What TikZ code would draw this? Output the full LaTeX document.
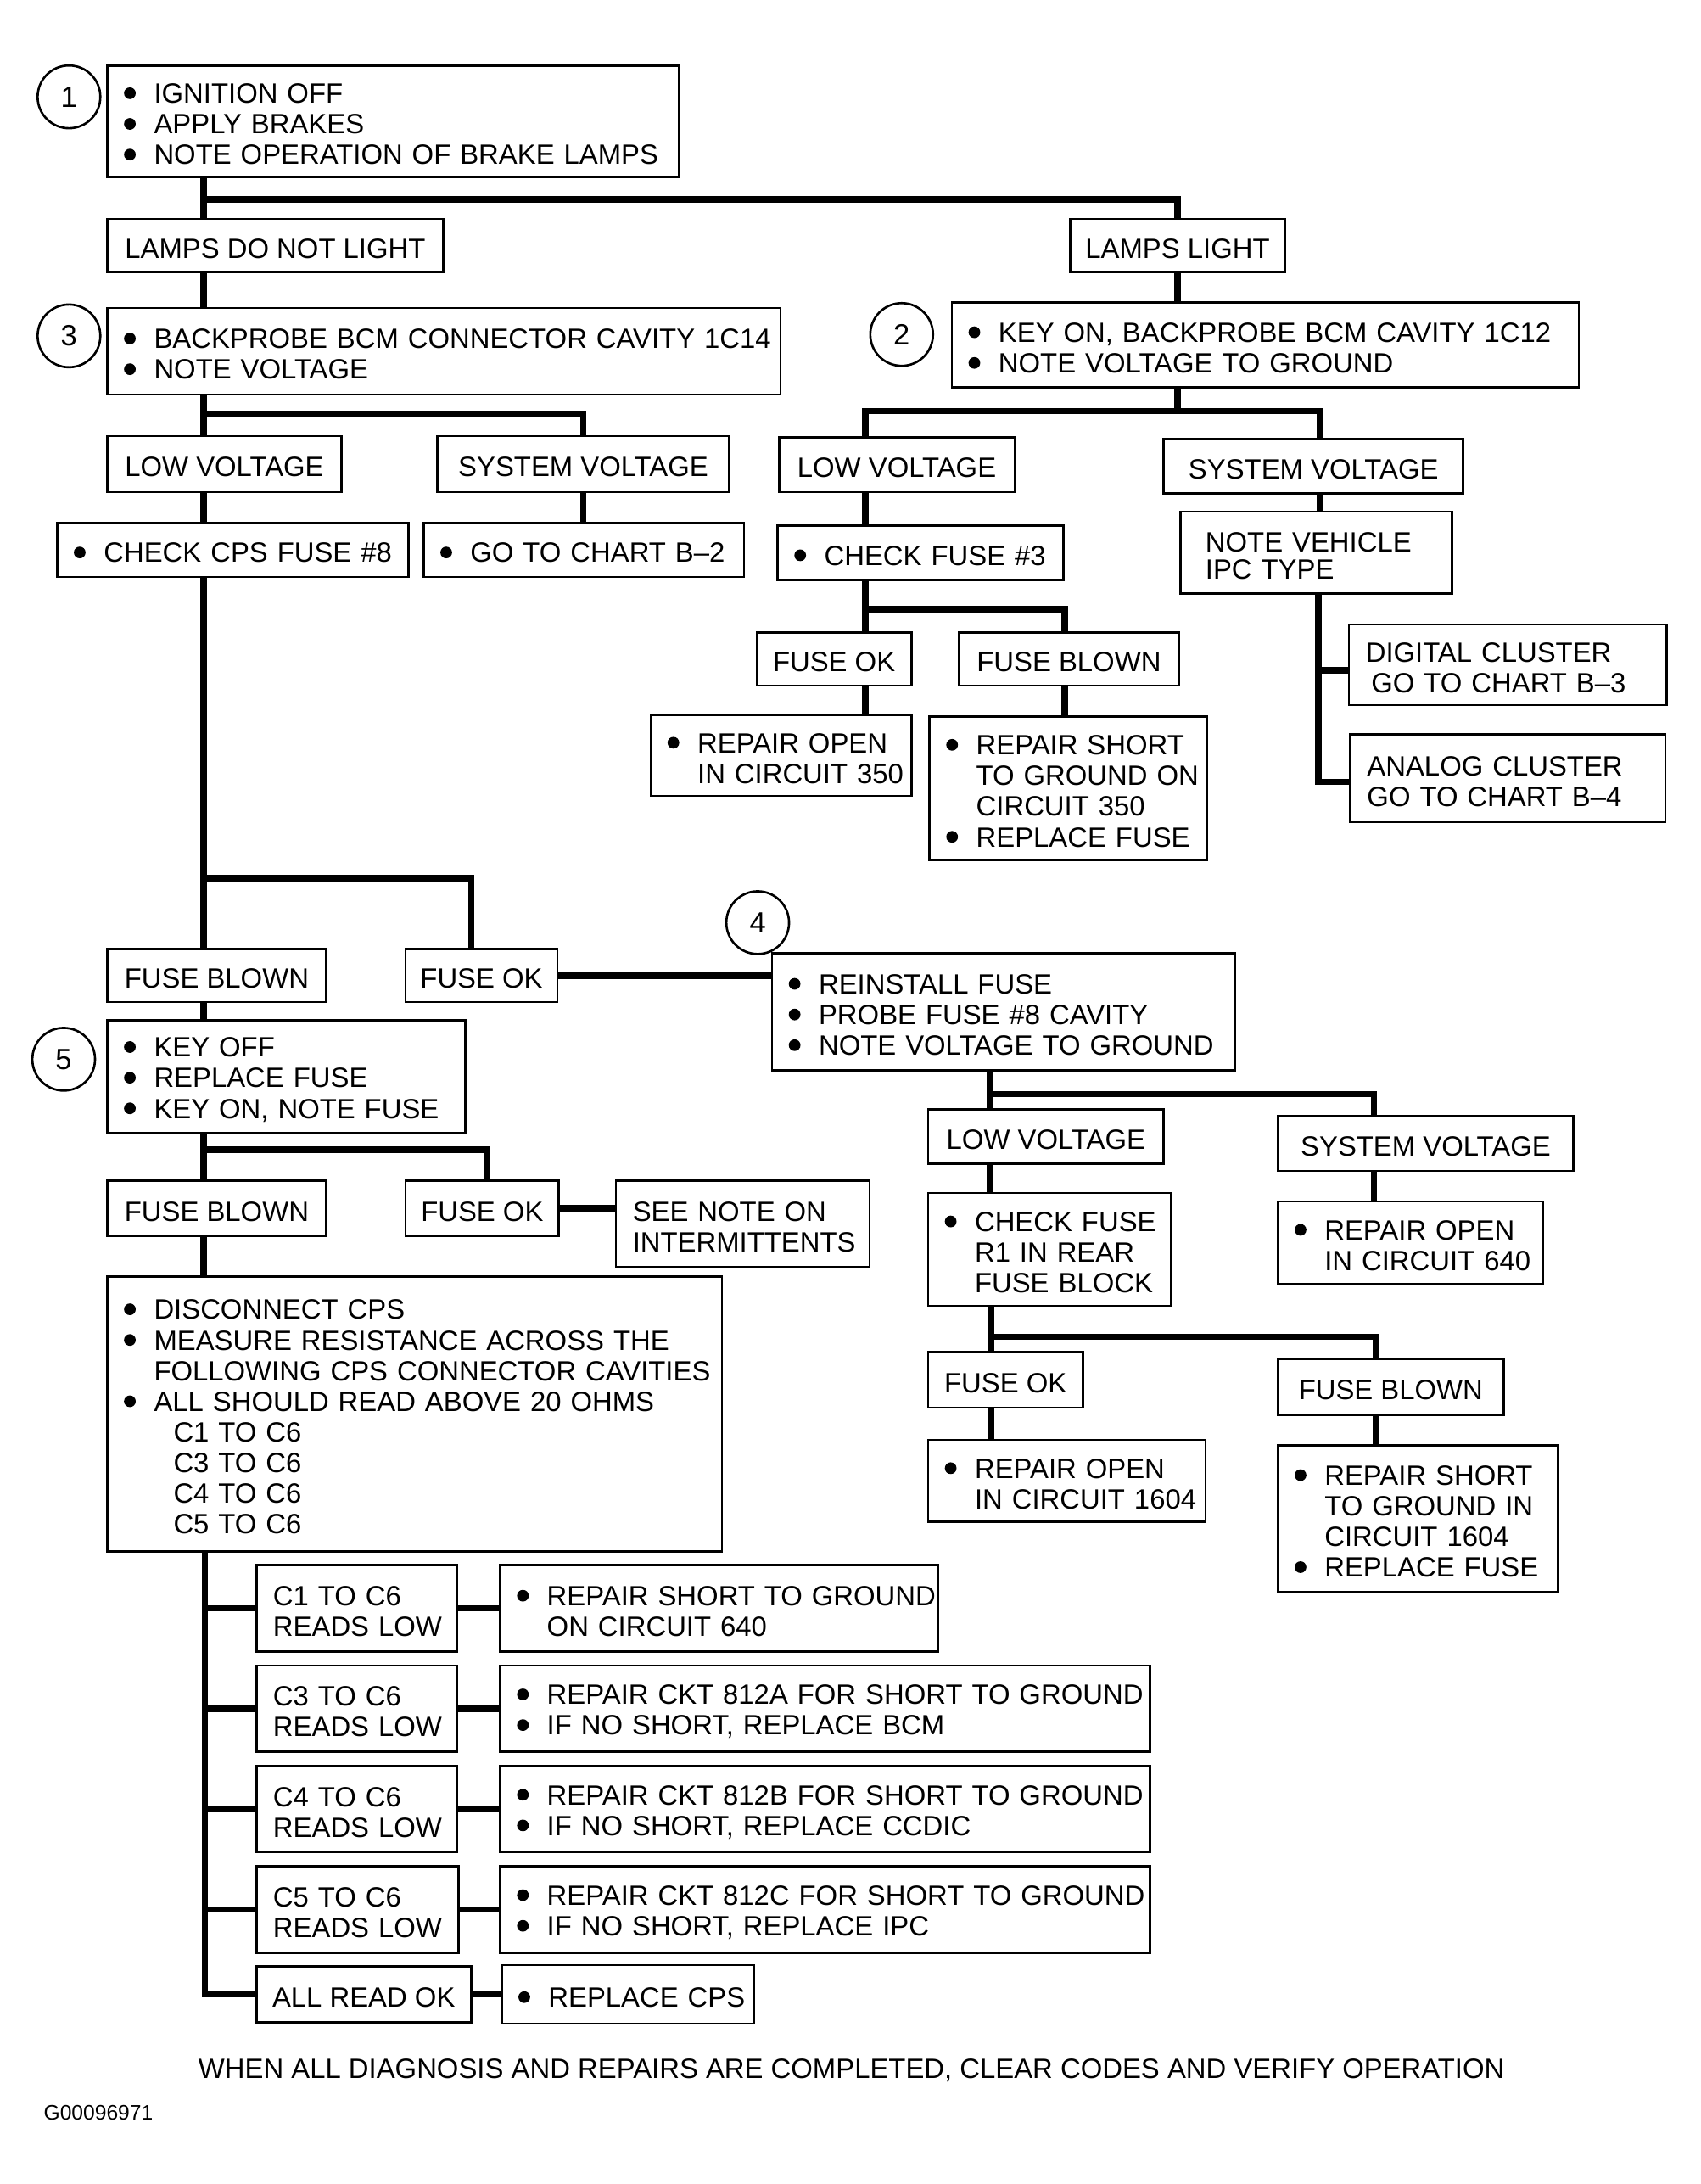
\documentclass[tikz,border=0pt]{standalone}
\usepackage{fontspec}
\setmainfont{Liberation Sans}
\usetikzlibrary{calc}
\tikzset{
  box/.style={draw, line width=0.8pt, rectangle, inner xsep=6pt, inner ysep=0pt, align=left, font=\fontsize{10}{11}\selectfont},
  lab/.style={draw, line width=0.8pt, rectangle, inner sep=0pt, font=\fontsize{10}{11}\selectfont},
  conn/.style={line width=2.25pt, line join=miter},
  num/.style={draw, circle, line width=0.8pt, minimum size=22.5pt, inner sep=0pt, font=\fontsize{10.5}{11}\selectfont}
}
\newcommand{\bul}{\makebox[10.75pt][l]{\tikz[baseline=0pt]\fill (2.1pt,3.6pt) circle (2.1pt);}}
\newcommand{\ind}{\hspace*{10.75pt}}
\newcommand{\tup}{\rule{0pt}{9.2pt}}
\newcommand{\bx}[7][]{%
  \pgfmathsetmacro\bxw{(#5-#3)*0.5}%
  \pgfmathsetmacro\bxh{(#6-#4)*0.5}%
  \pgfmathsetmacro\bxt{(#5-#3)*0.5-12}%
  \node[box, minimum width=\bxw pt, minimum height=\bxh pt, text width=\bxt pt, #1] (#2) at ({(#3+#5)/2},{(#4+#6)/2}) {\tup#7};%
}
\newcommand{\lb}[6]{%
  \pgfmathsetmacro\bxw{(#4-#2)*0.5}%
  \pgfmathsetmacro\bxh{(#5-#3)*0.5}%
  \node[lab, minimum width=\bxw pt, minimum height=\bxh pt] (#1) at ({(#2+#4)/2},{(#3+#5)/2}) {\tup#6};%
}
\begin{document}
\begin{tikzpicture}[x=0.5pt,y=-0.5pt]
\fill[white] (0,0) rectangle (1220,1567);
\useasboundingbox (0,0) rectangle (1220,1567);

% ---- boxes ----
\bx{b1}{77}{47}{487}{127}{\mbox{\bul IGNITION OFF}\\\mbox{\bul APPLY BRAKES}\\\mbox{\bul NOTE OPERATION OF BRAKE LAMPS}}
\lb{ldnl}{77}{157}{318}{195}{LAMPS DO NOT LIGHT}
\lb{ll}{768}{157}{922}{195}{LAMPS LIGHT}
\bx{b3}{77}{221}{560}{283}{\mbox{\bul BACKPROBE BCM CONNECTOR CAVITY 1C14}\\\mbox{\bul NOTE VOLTAGE}}
\bx{b2}{683}{217}{1133}{278}{\mbox{\bul KEY ON, BACKPROBE BCM CAVITY 1C12}\\\mbox{\bul NOTE VOLTAGE TO GROUND}}
\lb{lv1}{77}{313}{245}{353}{LOW VOLTAGE}
\lb{sv1}{314}{313}{523}{353}{SYSTEM VOLTAGE}
\bx{cps}{41}{375}{293}{414}{\mbox{\bul CHECK CPS FUSE \#8}}
\bx{gob2}{304}{375}{534}{414}{\mbox{\bul GO TO CHART B–2}}
\lb{lv2}{559}{314}{728}{353}{LOW VOLTAGE}
\lb{sv2}{835}{315}{1050}{354}{SYSTEM VOLTAGE}
\bx{cf3}{558}{377}{763}{416}{\mbox{\bul CHECK FUSE \#3}}
\bx[font=\fontsize{10}{9.6}\selectfont]{nvi}{847}{367}{1042}{426}{\mbox{\hspace*{3pt}NOTE VEHICLE}\\\mbox{\hspace*{3pt}IPC TYPE}}
\lb{fok1}{543}{454}{654}{492}{FUSE OK}
\lb{fb1}{688}{454}{846}{492}{FUSE BLOWN}
\bx{ro350}{467}{513}{654}{571}{\mbox{\bul REPAIR OPEN}\\\mbox{\ind IN CIRCUIT 350}}
\bx{rs350}{667}{514}{866}{617}{\mbox{\bul REPAIR SHORT}\\\mbox{\ind TO GROUND ON}\\\mbox{\ind CIRCUIT 350}\\\mbox{\bul REPLACE FUSE}}
\bx{dig}{968}{448}{1196}{506}{\mbox{DIGITAL CLUSTER}\\\mbox{\hspace*{2pt}GO TO CHART B–3}}
\bx{ana}{969}{527}{1195}{590}{\mbox{ANALOG CLUSTER}\\\mbox{GO TO CHART B–4}}
\lb{fb2}{77}{681}{234}{719}{FUSE BLOWN}
\lb{fok2}{291}{681}{400}{719}{FUSE OK}
\bx{b4}{554}{684}{886}{768}{\mbox{\bul REINSTALL FUSE}\\\mbox{\bul PROBE FUSE \#8 CAVITY}\\\mbox{\bul NOTE VOLTAGE TO GROUND}}
\bx{b5}{77}{732}{334}{813}{\mbox{\bul KEY OFF}\\\mbox{\bul REPLACE FUSE}\\\mbox{\bul KEY ON, NOTE FUSE}}
\lb{fb3}{77}{847}{234}{887}{FUSE BLOWN}
\lb{fok3}{291}{847}{401}{887}{FUSE OK}
\bx{sn}{442}{847}{624}{909}{\mbox{SEE NOTE ON}\\\mbox{INTERMITTENTS}}
\bx{b6}{77}{916}{518}{1113}{\mbox{\bul DISCONNECT CPS}\\\mbox{\bul MEASURE RESISTANCE ACROSS THE}\\\mbox{\ind FOLLOWING CPS CONNECTOR CAVITIES}\\\mbox{\bul ALL SHOULD READ ABOVE 20 OHMS}\\\mbox{\ind\hspace*{7pt}C1 TO C6}\\\mbox{\ind\hspace*{7pt}C3 TO C6}\\\mbox{\ind\hspace*{7pt}C4 TO C6}\\\mbox{\ind\hspace*{7pt}C5 TO C6}}
\lb{lv3}{666}{796}{835}{835}{LOW VOLTAGE}
\lb{sv3}{917}{801}{1129}{840}{SYSTEM VOLTAGE}
\bx{cfr1}{666}{856}{840}{937}{\mbox{\bul CHECK FUSE}\\\mbox{\ind R1 IN REAR}\\\mbox{\ind FUSE BLOCK}}
\bx{ro640}{917}{862}{1107}{921}{\mbox{\bul REPAIR OPEN}\\\mbox{\ind IN CIRCUIT 640}}
\lb{fok4}{666}{970}{777}{1010}{FUSE OK}
\lb{fb4}{917}{975}{1079}{1015}{FUSE BLOWN}
\bx{ro1604}{666}{1033}{865}{1092}{\mbox{\bul REPAIR OPEN}\\\mbox{\ind IN CIRCUIT 1604}}
\bx{rs1604}{917}{1037}{1118}{1142}{\mbox{\bul REPAIR SHORT}\\\mbox{\ind TO GROUND IN}\\\mbox{\ind CIRCUIT 1604}\\\mbox{\bul REPLACE FUSE}}
\bx{c1}{184}{1123}{328}{1185}{\mbox{C1 TO C6}\\\mbox{READS LOW}}
\bx{r1}{359}{1123}{673}{1185}{\mbox{\bul REPAIR SHORT TO GROUND}\\\mbox{\ind ON CIRCUIT 640}}
\bx{c3}{184}{1195}{328}{1257}{\mbox{C3 TO C6}\\\mbox{READS LOW}}
\bx{r3}{359}{1195}{825}{1257}{\mbox{\bul REPAIR CKT 812A FOR SHORT TO GROUND}\\\mbox{\bul IF NO SHORT, REPLACE BCM}}
\bx{c4}{184}{1267}{328}{1329}{\mbox{C4 TO C6}\\\mbox{READS LOW}}
\bx{r4}{359}{1267}{825}{1329}{\mbox{\bul REPAIR CKT 812B FOR SHORT TO GROUND}\\\mbox{\bul IF NO SHORT, REPLACE CCDIC}}
\bx{c5}{184}{1339}{329}{1401}{\mbox{C5 TO C6}\\\mbox{READS LOW}}
\bx{r5}{359}{1339}{825}{1401}{\mbox{\bul REPAIR CKT 812C FOR SHORT TO GROUND}\\\mbox{\bul IF NO SHORT, REPLACE IPC}}
\lb{aok}{184}{1411}{338}{1451}{ALL READ OK}
\bx{rcps}{360}{1410}{541}{1452}{\mbox{\bul REPLACE CPS}}

% ---- step numbers ----
\node[num] (n1) at (49.5,69.5) {1};
\node[num] (n3) at (49.5,241) {3};
\node[num] (n2) at (647,240) {2};
\node[num] (n4) at (543.7,662) {4};
\node[num] (n5) at (45.7,760) {5};

% ---- connectors ----
\coordinate (jA) at (146,143);
\draw[conn] (b1.south -| jA) -- (ldnl.north -| jA);
\draw[conn] (jA) -| (ll.north);
\draw[conn] (ldnl.south -| jA) -- (b3.north -| jA);
\draw[conn] (ll.south) -- (ll.south |- b2.north);

\coordinate (jB) at (146,297);
\draw[conn] (b3.south -| jB) -- (lv1.north -| jB);
\draw[conn] (jB) -| (sv1.north);
\draw[conn] (lv1.south -| jB) -- (cps.north -| jB);
\draw[conn] (sv1.south) -- (sv1.south |- gob2.north);

\coordinate (jCL) at (621,295);
\coordinate (jCR) at (947,295);
\draw[conn] (ll.south |- b2.south) -- (ll.south |- jCL);
\draw[conn] (lv2.north -| jCL) -- (jCL) -- (jCR) -- (sv2.north -| jCR);
\draw[conn] (lv2.south -| jCL) -- (cf3.north -| jCL);
\draw[conn] (sv2.south -| jCR) -- (nvi.north -| jCR);

\coordinate (jDL) at (621,437);
\coordinate (jDR) at (764,437);
\draw[conn] (cf3.south -| jDL) -- (fok1.north -| jDL);
\draw[conn] (jDL) -- (jDR) -- (fb1.north -| jDR);
\draw[conn] (fok1.south -| jDL) -- (ro350.north -| jDL);
\draw[conn] (fb1.south -| jDR) -- (rs350.north -| jDR);

\coordinate (jE1) at (946,481);
\coordinate (jE2) at (946,561);
\draw[conn] (nvi.south -| jE1) -- (jE2) -- (jE2 -| ana.west);
\draw[conn] (jE1) -- (jE1 -| dig.west);

\coordinate (jF) at (146,630);
\coordinate (jFR) at (338,630);
\draw[conn] (cps.south -| jF) -- (fb2.north -| jF);
\draw[conn] (jF) -- (jFR) -- (fok2.north -| jFR);
\draw[conn] (fok2.east) -- (fok2.east -| b4.west);
\draw[conn] (fb2.south -| jF) -- (b5.north -| jF);

\coordinate (jG) at (146,825);
\coordinate (jGR) at (349,825);
\draw[conn] (b5.south -| jG) -- (fb3.north -| jG);
\draw[conn] (jG) -- (jGR) -- (fok3.north -| jGR);
\draw[conn] (fok3.east) -- (fok3.east -| sn.west);
\draw[conn] (fb3.south -| jG) -- (b6.north -| jG);

\coordinate (jH) at (147,1200);
\draw[conn] (b6.south -| jH) -- (jH |- aok.west) -- (aok.west);
\foreach \c in {c1,c3,c4,c5} {\draw[conn] (jH |- \c.west) -- (\c.west);}
\foreach \c/\r in {c1/r1,c3/r3,c4/r4,c5/r5,aok/rcps} {\draw[conn] (\c.east) -- (\c.east -| \r.west);}

\coordinate (jIL) at (710,785);
\coordinate (jIR) at (986,785);
\draw[conn] (b4.south -| jIL) -- (lv3.north -| jIL);
\draw[conn] (jIL) -- (jIR) -- (sv3.north -| jIR);
\draw[conn] (lv3.south -| jIL) -- (cfr1.north -| jIL);
\draw[conn] (sv3.south -| jIR) -- (ro640.north -| jIR);

\coordinate (jJL) at (711,959);
\coordinate (jJR) at (987,959);
\draw[conn] (cfr1.south -| jJL) -- (fok4.north -| jJL);
\draw[conn] (jJL) -- (jJR) -- (fb4.north -| jJR);
\draw[conn] (fok4.south -| jJL) -- (ro1604.north -| jJL);
\draw[conn] (fb4.south -| jJR) -- (rs1604.north -| jJR);

% ---- footer ----
\node[font=\fontsize{10}{12}\selectfont, anchor=base, inner sep=0pt] (foot) at (611,1491) {WHEN ALL DIAGNOSIS AND REPAIRS ARE COMPLETED, CLEAR CODES AND VERIFY OPERATION};
\node[font=\fontsize{7.5}{9}\selectfont, anchor=base west, inner sep=0pt] (gid) at (31,1521) {G00096971};
\end{tikzpicture}
\end{document}
